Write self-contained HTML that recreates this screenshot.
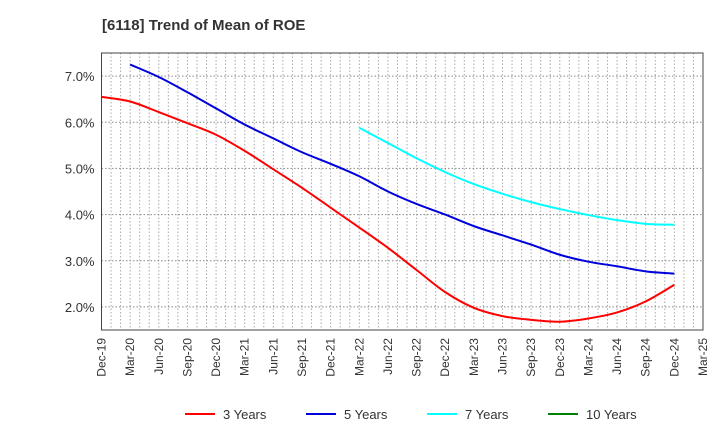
<!DOCTYPE html>
<html><head><meta charset="utf-8">
<style>
body{margin:0;background:#fff;font-family:"Liberation Sans",sans-serif;}
svg text{font-family:"Liberation Sans",sans-serif;}
</style></head>
<body>
<svg id="chart" width="720" height="440" xmlns="http://www.w3.org/2000/svg">
<text x="102" y="30" font-size="15" font-weight="bold" fill="#333">[6118]  Trend of Mean of ROE</text>
<g id="grid"></g>
<g id="yaxis"></g>
<g id="xaxis"></g>
<g id="series"></g>
<rect x="101.5" y="53" width="601.5" height="277" fill="none" stroke="#444" stroke-width="1"/>
<g id="legend"></g>
</svg>
<script>
const xLabels=["Dec-19","Mar-20","Jun-20","Sep-20","Dec-20","Mar-21","Jun-21","Sep-21","Dec-21","Mar-22","Jun-22","Sep-22","Dec-22","Mar-23","Jun-23","Sep-23","Dec-23","Mar-24","Jun-24","Sep-24","Dec-24","Mar-25"];
const yTicks=[2,3,4,5,6,7];
const y3=[6.55,6.45,6.22,5.98,5.73,5.38,4.98,4.58,4.15,3.72,3.28,2.8,2.32,1.98,1.8,1.72,1.68,1.75,1.88,2.12,2.48];
const y5=[null,7.25,6.98,6.65,6.3,5.95,5.65,5.35,5.1,4.83,4.5,4.23,4.0,3.75,3.55,3.35,3.13,2.98,2.88,2.77,2.72];
const y7=[null,null,null,null,null,null,null,null,null,5.88,5.55,5.22,4.92,4.66,4.45,4.27,4.12,3.99,3.88,3.8,3.78];
const y10=[];
const seriesNames=["3 Years","5 Years","7 Years","10 Years"];
const seriesColors=["#ff0000","#0000dd","#00ffff","#008000"];

const L=101.5,R=703,T=53,B=330,yMin=1.5,yMax=7.5,months=63;
const xq=i=>L+(i*3)*(R-L)/months;
const ym=v=>B-(v-yMin)*(B-T)/(yMax-yMin);
const NS="http://www.w3.org/2000/svg";
function mk(tag,attrs,parent){const e=document.createElementNS(NS,tag);for(const k in attrs)e.setAttribute(k,attrs[k]);parent.appendChild(e);return e;}
const grid=document.getElementById('grid'),ya=document.getElementById('yaxis'),xa=document.getElementById('xaxis'),sg=document.getElementById('series'),lg=document.getElementById('legend');
for(let m=1;m<months;m++){const x=L+m*(R-L)/months;
const l=mk('line',{x1:x,x2:x,y1:T,y2:B,stroke:'#aaa','stroke-dasharray':'1.5,2','stroke-width':1},grid);

}
yTicks.forEach(v=>{const y=ym(v);
const l=mk('line',{x1:L,x2:R,y1:y,y2:y,stroke:'#888','stroke-dasharray':'1.5,2','stroke-width':1},grid);


const t=mk('text',{x:L-7,y:y+5,'text-anchor':'end','font-size':13,fill:'#333'},ya);t.textContent=v.toFixed(1)+'%';

});
xLabels.forEach((s,i)=>{const x=xq(i);
const t=mk('text',{x:x+4,y:338,'text-anchor':'end','font-size':12,fill:'#333',transform:`rotate(-90 ${x+4} 338)`},xa);t.textContent=s;

});
function path(arr){const p=[];arr.forEach((v,i)=>{if(v!=null)p.push([xq(i),ym(v)]);});if(p.length<2)return '';
let d=`M${p[0][0]},${p[0][1]}`;for(let i=0;i<p.length-1;i++){const p0=p[Math.max(0,i-1)],p1=p[i],p2=p[i+1],p3=p[Math.min(p.length-1,i+2)];
const c1=[p1[0]+(p2[0]-p0[0])/6,p1[1]+(p2[1]-p0[1])/6],c2=[p2[0]-(p3[0]-p1[0])/6,p2[1]-(p3[1]-p1[1])/6];
d+=`C${c1[0]},${c1[1]} ${c2[0]},${c2[1]} ${p2[0]},${p2[1]}`;}return d;}
[y3,y5,y7,y10].forEach((a,k)=>{const d=path(a);if(!d)return;
const e=mk('path',{d:d,fill:'none',stroke:seriesColors[k],'stroke-width':2},sg);

});
const lx=[185,306,427,548];
seriesNames.forEach((n,k)=>{
const g=mk('g',{},lg);


mk('line',{x1:lx[k],x2:lx[k]+30,y1:414,y2:414,stroke:seriesColors[k],'stroke-width':2},g);
const t=mk('text',{x:lx[k]+38,y:419,'font-size':13,fill:'#333'},g);t.textContent=n;});
</script>
</body></html>
